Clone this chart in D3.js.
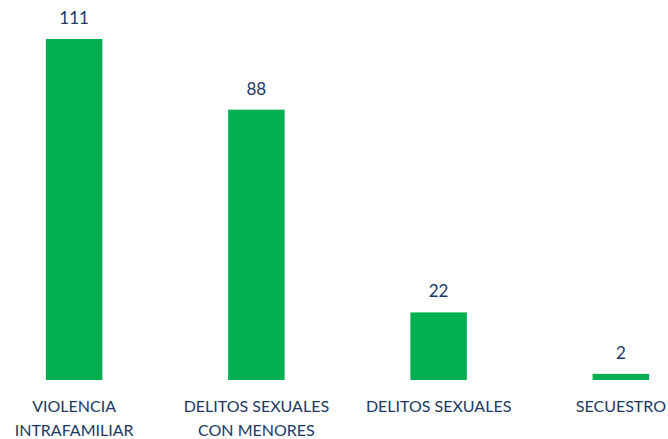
<!DOCTYPE html>
<html>
<head>
<meta charset="utf-8">
<script src="https://cdn.jsdelivr.net/npm/d3@7"></script>
<style>
  body { margin: 0; background: #fff; }
  text { font-family: Lato, "Open Sans", sans-serif; fill: #203864; }
</style>
</head>
<body>
<div id="chart"></div>
<script>
////////////////// Data ////////////////////
var categories = ["VIOLENCIA INTRAFAMILIAR", "DELITOS SEXUALES CON MENORES", "DELITOS SEXUALES", "SECUESTRO"];
var categoryLines = [["VIOLENCIA", "INTRAFAMILIAR"], ["DELITOS SEXUALES", "CON MENORES"], ["DELITOS SEXUALES"], ["SECUESTRO"]];
var values = [111, 88, 22, 2];

////////////////// Chart Parameters ////////////////////
var svgWidth = 668;
var svgHeight = 439;
var baseline = 380;
var topY = 39;

var svg = d3.select("#chart").append("svg")
  .attr("width", svgWidth)
  .attr("height", svgHeight);

////////// Scales //////////
var xScale = d3.scaleBand()
  .domain(categories)
  .range([-17, 712])
  .paddingInner(0.69)
  .paddingOuter(0.345);

var yScale = d3.scaleLinear()
  .domain([0, 111])
  .range([baseline, topY]);

////////// Bars //////////
svg.selectAll("rect.bar")
  .data(values)
  .enter()
  .append("rect")
  .attr("class", "bar")
  .attr("x", (d, i) => xScale(categories[i]))
  .attr("y", d => yScale(d))
  .attr("width", xScale.bandwidth())
  .attr("height", d => baseline - yScale(d))
  .attr("fill", "#00B050");

////////// Value labels //////////
svg.selectAll("text.value")
  .data(values)
  .enter()
  .append("text")
  .attr("class", "value")
  .attr("x", (d, i) => xScale(categories[i]) + xScale.bandwidth() / 2)
  .attr("y", d => yScale(d) - 15)
  .attr("text-anchor", "middle")
  .style("font-size", "17px")
  .text(d => d);

////////// Category labels //////////
var cat = svg.selectAll("text.cat")
  .data(categories)
  .enter()
  .append("text")
  .attr("class", "cat")
  .attr("text-anchor", "middle")
  .style("font-size", "16px");

cat.each(function (d, i) {
  var t = d3.select(this);
  var cx = xScale(d) + xScale.bandwidth() / 2;
  categoryLines[i].forEach(function (line, j) {
    t.append("tspan")
      .attr("x", cx)
      .attr("y", 412 + j * 24)
      .text(line);
  });
});
</script>
</body>
</html>
